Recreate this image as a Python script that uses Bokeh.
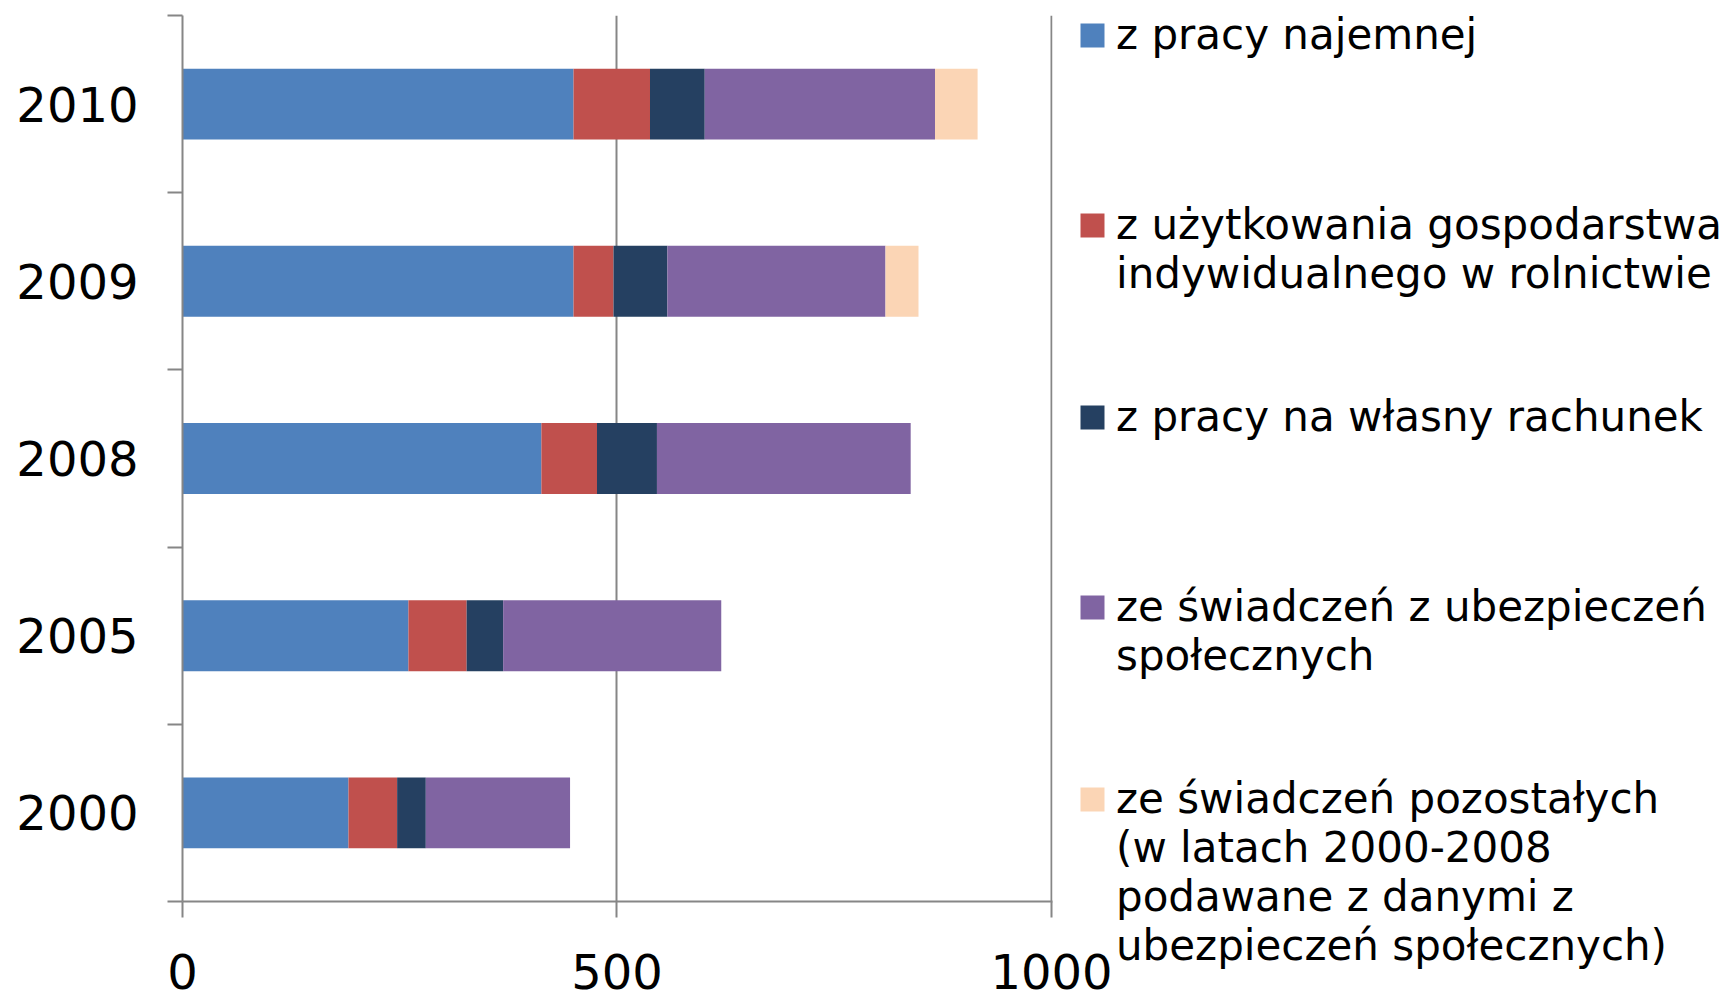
from bokeh.plotting import figure
from bokeh.models import ColumnDataSource, Range1d, FixedTicker, Legend, LegendItem
from bokeh.core.properties import value
from bokeh.embed import file_html
from bokeh.resources import INLINE

# ---- data ----
years = ["2000", "2005", "2008", "2009", "2010"]
z_pracy_najemnej = [191, 260, 413, 450, 450]
z_uzytkowania_gospodarstwa = [56, 67, 64, 46, 88]
z_pracy_na_wlasny_rachunek = [33, 42, 69, 62, 63]
ze_swiadczen_ubezpieczen = [166, 251, 292, 251, 265]
ze_swiadczen_pozostalych = [0, 0, 0, 38, 49]

series_keys = ["najemnej", "gospodarstwa", "wlasny", "ubezpieczen", "pozostalych"]
series_values = [z_pracy_najemnej, z_uzytkowania_gospodarstwa, z_pracy_na_wlasny_rachunek,
                 ze_swiadczen_ubezpieczen, ze_swiadczen_pozostalych]
series_colors = ["#4F81BD", "#C0504D", "#254061", "#8064A2", "#FBD5B5"]
legend_lines = [
    ["z pracy najemnej"],
    ["z użytkowania gospodarstwa", "indywidualnego w rolnictwie"],
    ["z pracy na własny rachunek"],
    ["ze świadczeń z ubezpieczeń", "społecznych"],
    ["ze świadczeń pozostałych", "(w latach 2000-2008", "podawane z danymi z", "ubezpieczeń społecznych)"],
]
x_ticks = [0, 500, 1000]

FONT = "DejaVu Sans"
AX = "#868686"
ROWS_PER_ENTRY = 4

ypos = [i + 0.5 for i in range(len(years))]
data = {"y": ypos}
for k, v in zip(series_keys, series_values):
    data[k] = v
source = ColumnDataSource(data)

p = figure(frame_width=870, height=998,
           x_range=Range1d(0, x_ticks[-1] * 1.0012), y_range=Range1d(0, len(years)),
           output_backend="svg", toolbar_location=None,
           min_border_left=182, min_border_right=0,
           min_border_top=15, min_border_bottom=97)
p.outline_line_color = None
p.background_fill_color = "white"

bars = p.hbar_stack(series_keys, y="y", height=0.4, color=series_colors,
                    source=source, line_color=None)

# x axis
p.xaxis.ticker = FixedTicker(ticks=x_ticks)
p.xaxis.axis_line_color = AX
p.xaxis.axis_line_width = 2
p.xaxis.major_tick_line_color = AX
p.xaxis.major_tick_line_width = 2
p.xaxis.major_tick_out = 16
p.xaxis.major_tick_in = 0
p.xaxis.minor_tick_line_color = None
p.xaxis.major_label_text_font = FONT
p.xaxis.major_label_text_font_size = "48px"
p.xaxis.major_label_text_color = "black"
p.xaxis.major_label_standoff = 36

# y axis
p.yaxis.ticker = FixedTicker(ticks=ypos, minor_ticks=list(range(len(years) + 1)))
p.yaxis.major_label_overrides = {y: yr for y, yr in zip(ypos, years)}
p.yaxis.axis_line_color = AX
p.yaxis.axis_line_width = 2
p.yaxis.major_tick_out = 0
p.yaxis.major_tick_in = 0
p.yaxis.major_tick_line_color = None
p.yaxis.minor_tick_out = 15
p.yaxis.minor_tick_in = 0
p.yaxis.minor_tick_line_color = AX
p.yaxis.minor_tick_line_width = 2
p.yaxis.major_label_text_font = FONT
p.yaxis.major_label_text_font_size = "48px"
p.yaxis.major_label_text_color = "black"
p.yaxis.major_label_standoff = 29

# grid
p.xgrid.ticker = FixedTicker(ticks=x_ticks[1:])
p.xgrid.grid_line_color = AX
p.xgrid.grid_line_width = 2
p.ygrid.grid_line_color = None

# legend: one row per text line, the swatch on the first line of each entry
items = []
for i, (lines, r) in enumerate(zip(legend_lines, bars)):
    items.append(LegendItem(label=value(lines[0]), renderers=[r]))
    for line in lines[1:]:
        items.append(LegendItem(label=value(line), renderers=[]))
    if i < len(legend_lines) - 1:
        for _ in range(ROWS_PER_ENTRY - len(lines)):
            items.append(LegendItem(label=value(" "), renderers=[]))

legend = Legend(items=items, location=(25, -69), orientation="vertical",
                ncols=1,
                margin=0, padding=0, spacing=0,
                border_line_color=None, background_fill_alpha=0,
                glyph_width=30, glyph_height=30, label_standoff=9,
                label_height=47, label_text_line_height=1.1,
                label_text_font=FONT, label_text_font_size="42px",
                label_text_color="black")
p.add_layout(legend, "right")

open("out.html", "w").write(file_html(p, INLINE))
